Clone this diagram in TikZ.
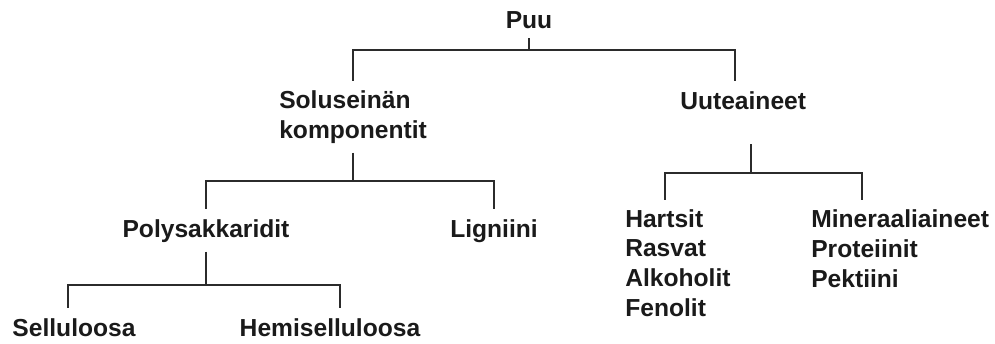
\documentclass[tikz,border=0pt]{standalone}
\usepackage{fontspec}
\setmainfont{Liberation Sans}
\usepackage{xcolor}
\usepackage{tikz}
\usetikzlibrary{positioning}
\definecolor{ink}{HTML}{1A1A1A}
\definecolor{wire}{HTML}{2B2B2B}
\tikzset{
  lbl/.style={font=\bfseries\fontsize{17.5}{21}\selectfont, text=ink, inner sep=0pt, outer ysep=7pt},
  lst/.style={lbl, align=left, anchor=base west},
}

\begin{document}
\begin{tikzpicture}[x=0.025cm, y=-0.025cm,
  tree/.style={draw=wire, line width=1.3pt}]
\useasboundingbox (0,0) rectangle (995,343);
\node[lbl, anchor=base] (puu) at (529,28) {Puu};
\node[lst] (sol) at (279,138) {Soluseinän\\komponentit};
\node[lbl, anchor=base west] (uut) at (680,109) {Uuteaineet};
\node[lbl, anchor=base] (poly) at (206,237) {Polysakkaridit};
\node[lbl, anchor=base] (lig) at (494,237) {Ligniini};
\node[lbl, anchor=base] (sel) at (74,336) {Selluloosa};
\node[lbl, anchor=base] (hemi) at (330,336) {Hemiselluloosa};
\node[lst] (hart) at (625,316) {Hartsit\\Rasvat\\Alkoholit\\Fenolit};
\node[lst] (min) at (811,287) {Mineraaliaineet\\Proteiinit\\Pektiini};
\draw[tree] (puu.south) -- ++(0,12) -| (sol.north);
\draw[tree] (puu.south) -- ++(0,12) -| ([xshift=-5.7pt]uut.north);
\draw[tree] (sol.south) -- ++(0,28) -| (poly.north);
\draw[tree] (sol.south) -- ++(0,28) -| (lig.north);
\draw[tree, shorten <=18pt] ([xshift=5.7pt]uut.south) -- ++(0,54) -| ([xshift=28.4pt]hart.north west);
\draw[tree, shorten <=18pt] ([xshift=5.7pt]uut.south) -- ++(0,54) -| ([xshift=36.3pt]min.north west);
\draw[tree] (poly.south) -- ++(0,33) -| ([xshift=-4.3pt]sel.north);
\draw[tree] (poly.south) -- ++(0,33) -| ([xshift=7pt]hemi.north);
\end{tikzpicture}
\end{document}
